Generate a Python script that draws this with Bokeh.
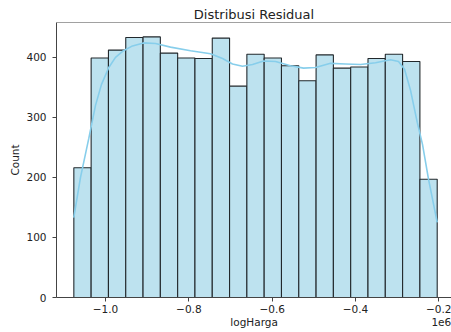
import numpy as np
from bokeh.plotting import figure
from bokeh.models import Range1d, FixedTicker, CustomJSTickFormatter, Span
from bokeh.embed import file_html
from bokeh.resources import INLINE

# ---- data ----
title_text = "Distribusi Residual"
x_label = "logHarga"
y_label = "Count"
offset_text = "1e6"

hist_min = -1.076e6
hist_max = -0.204e6
counts = [216, 399, 412, 433, 434, 407, 399, 398, 432, 352, 405,
          399, 386, 361, 404, 382, 384, 398, 405, 393, 197]

kde_x = [-1.0761, -1.0600, -1.0401, -1.0240, -1.0096, -0.9921, -0.9760,
         -0.9568, -0.9352, -0.9088, -0.8800, -0.8440, -0.7960, -0.7480,
         -0.7192, -0.6952, -0.6712, -0.6472, -0.6208, -0.5920, -0.5560,
         -0.5248, -0.4960, -0.4600, -0.4240, -0.3880, -0.3520, -0.3160,
         -0.2968, -0.2824, -0.2680, -0.2520, -0.2393, -0.2249, -0.2040]
kde_y = [133, 200, 265, 320, 355, 383, 400, 411, 419, 424, 423, 417, 411,
         406, 398, 389, 385, 388, 394, 393, 386, 382, 383, 390, 389, 388,
         391, 396, 393, 380, 345, 292, 255, 197, 125]

x_ticks = [-1.0e6, -0.8e6, -0.6e6, -0.4e6, -0.2e6]
y_ticks = [0, 100, 200, 300, 400]

# ---- figure ----
edges = np.linspace(hist_min, hist_max, len(counts) + 1)
kx = [v * 1e6 for v in kde_x]

FONT = "DejaVu Sans"
p = figure(width=451, height=332, output_backend="svg", toolbar_location=None,
           x_range=Range1d(-1.1176e6, -0.1697e6), y_range=Range1d(0, 458),
           min_border_left=56, min_border_right=0, min_border_top=22,
           min_border_bottom=35, title=title_text)

p.title.text_font = FONT
p.title.text_font_size = "13px"
p.title.text_font_style = "normal"
p.title.align = "center"
p.title.vertical_align = "middle"
p.title.text_color = "#222222"
p.title.standoff = 0
p.title.text_line_height = 1.0

p.xgrid.visible = False
p.ygrid.visible = False
p.outline_line_color = None
p.background_fill_color = "white"
p.border_fill_color = "white"

p.quad(left=edges[:-1], right=edges[1:], top=counts, bottom=0,
       fill_color="#bde2ef", line_color="#22282c", line_width=1.1)
p.line(kx, kde_y, line_color="#87ceeb", line_width=1.6)

p.add_layout(Span(location=p.y_range.end, dimension="width",
                  line_color="#444444", line_width=1))

for ax in (p.xaxis[0], p.yaxis[0]):
    ax.axis_line_color = "#444444"
    ax.major_tick_line_color = "#444444"
    ax.major_tick_out = 4
    ax.major_tick_in = 0
    ax.minor_tick_line_color = None
    ax.major_label_text_font = FONT
    ax.major_label_text_font_size = "10.5px"
    ax.major_label_text_color = "#222222"
    ax.axis_label_text_font = FONT
    ax.axis_label_text_font_size = "10.5px"
    ax.axis_label_text_font_style = "normal"
    ax.axis_label_text_color = "#222222"

p.xaxis.major_label_standoff = 3
p.xaxis.axis_label_standoff = 0
p.yaxis.major_label_standoff = 6
p.yaxis.axis_label_standoff = 2

p.xaxis.ticker = FixedTicker(ticks=x_ticks)
p.xaxis.formatter = CustomJSTickFormatter(
    code="return (tick/1e6).toFixed(1).replace('-', '\\u2212');")
p.yaxis.ticker = FixedTicker(ticks=y_ticks)
# x label row: "logHarga" centred under the frame, offset text "1e6" at the right end
NBSP = "\u00a0"
p.xaxis.axis_label = NBSP * 52 + x_label + NBSP * 46 + offset_text
p.yaxis.axis_label = y_label

open("out.html", "w").write(file_html(p, INLINE))
